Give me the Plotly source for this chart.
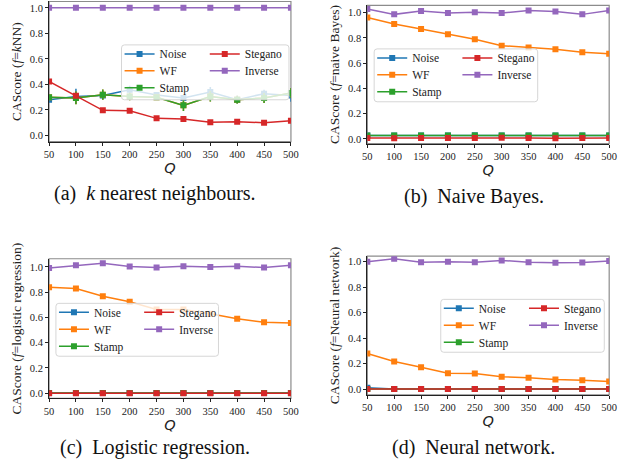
import plotly.graph_objects as go

# ---------------- data ----------------
Q = [50, 100, 150, 200, 250, 300, 350, 400, 450, 500]
series_names = ["Noise", "WF", "Stamp", "Stegano", "Inverse"]
colors = ["#1f77b4", "#ff7f0e", "#2ca02c", "#d62728", "#9467bd"]

# (a) kNN
knn_noise = [0.28, 0.305, 0.313, 0.358, 0.316, 0.293, 0.34, 0.28, 0.327, 0.313]
knn_noise_err = [0.02, 0.06, 0.03, 0.03, 0.02, 0.02, 0.04, 0.03, 0.03, 0.05]
knn_wf = [0.298, 0.293, 0.319, 0.305, 0.298, 0.235, 0.305, 0.28, 0.293, 0.332]
knn_wf_err = [0.02, 0.05, 0.04, 0.03, 0.02, 0.045, 0.04, 0.03, 0.04, 0.04]
knn_stamp = [0.298, 0.293, 0.319, 0.305, 0.298, 0.235, 0.305, 0.28, 0.293, 0.332]
knn_stamp_err = [0.02, 0.05, 0.04, 0.03, 0.02, 0.045, 0.04, 0.03, 0.04, 0.04]
knn_stegano = [0.423, 0.311, 0.196, 0.193, 0.133, 0.128, 0.102, 0.107, 0.099, 0.115]
knn_stegano_err = [0.01, 0.01, 0.01, 0.01, 0.01, 0.01, 0.01, 0.01, 0.01, 0.01]
knn_inverse = [1.0, 1.0, 1.0, 1.0, 1.0, 1.0, 1.0, 1.0, 1.0, 1.0]
knn_inverse_err = [0, 0, 0, 0, 0, 0, 0, 0, 0, 0]

# (b) naive Bayes
nb_noise = [0.027, 0.026, 0.027, 0.027, 0.028, 0.027, 0.026, 0.027, 0.027, 0.027]
nb_wf = [0.963, 0.91, 0.871, 0.829, 0.789, 0.739, 0.724, 0.711, 0.687, 0.674]
nb_stamp = [0.027, 0.026, 0.027, 0.027, 0.027, 0.027, 0.026, 0.027, 0.027, 0.027]
nb_stegano = [0.008, 0.006, 0.008, 0.007, 0.008, 0.01, 0.008, 0.006, 0.008, 0.008]
nb_inverse = [1.03, 0.987, 1.013, 0.997, 1.003, 0.997, 1.018, 1.01, 0.987, 1.018]

# (c) logistic regression
lr_noise = [0.002, 0.002, 0.002, 0.002, 0.002, 0.002, 0.002, 0.002, 0.002, 0.002]
lr_wf = [0.839, 0.829, 0.768, 0.724, 0.663, 0.663, 0.629, 0.589, 0.561, 0.555]
lr_stamp = [0.001, 0.001, 0.001, 0.001, 0.001, 0.001, 0.001, 0.001, 0.001, 0.001]
lr_stegano = [0.0, 0.0, 0.0, 0.0, 0.0, 0.0, 0.0, 0.0, 0.0, 0.0]
lr_inverse = [0.992, 1.013, 1.029, 1.003, 0.995, 1.005, 1.0, 1.005, 0.995, 1.013]

# (d) neural network
nn_noise = [0.01, 0.0, 0.0, 0.0, 0.0, 0.0, 0.0, 0.0, 0.0, 0.0]
nn_wf = [0.279, 0.217, 0.172, 0.125, 0.123, 0.097, 0.089, 0.076, 0.07, 0.06]
nn_stamp = [0.0, 0.0, 0.0, 0.0, 0.0, 0.0, 0.0, 0.0, 0.0, 0.0]
nn_stegano = [0.0, 0.0, 0.0, 0.0, 0.0, 0.0, 0.0, 0.0, 0.0, 0.0]
nn_inverse = [1.0, 1.023, 0.997, 1.0, 0.997, 1.01, 0.997, 0.992, 0.995, 1.005]

y_ticks = [0.0, 0.2, 0.4, 0.6, 0.8, 1.0]

panels = [
    dict(series=[knn_noise, knn_wf, knn_stamp, knn_stegano, knn_inverse],
         errs=[knn_noise_err, knn_wf_err, knn_stamp_err, knn_stegano_err, knn_inverse_err],
         ytitle="CAScore (<i>f</i>=<i>k</i>NN)",
         caption="(a)  <i>k</i> nearest neighbours."),
    dict(series=[nb_noise, nb_wf, nb_stamp, nb_stegano, nb_inverse], errs=None,
         ytitle="CAScore (<i>f</i>=naive Bayes)",
         caption="(b)  Naive Bayes."),
    dict(series=[lr_noise, lr_wf, lr_stamp, lr_stegano, lr_inverse], errs=None,
         ytitle="CAScore (<i>f</i>=logistic regression)",
         caption="(c)  Logistic regression."),
    dict(series=[nn_noise, nn_wf, nn_stamp, nn_stegano, nn_inverse], errs=None,
         ytitle="CAScore (<i>f</i>=Neural network)",
         caption="(d)  Neural network."),
]

# ---------------- layout geometry (pixels) ----------------
W, H = 626, 465
def px(x):
    return x / W
def py(y):
    return 1 - y / H

geom = [
    dict(l=45, r=292, t=1.5, b=142, yr=[-0.05, 1.05], leg=(119, 290, 45, 100), rows=(54, 71, 88), cap=(153, 194)),
    dict(l=370, r=617, t=5.3, b=144, yr=[-0.038, 1.059], leg=(377, 544, 49, 102), rows=(58, 75, 92), cap=(479, 197)),
    dict(l=45, r=292, t=259.3, b=399.3, yr=[-0.042, 1.065], leg=(52, 218, 304, 357), rows=(313, 330, 347), cap=(153, 448)),
    dict(l=370, r=617, t=256.7, b=395.7, yr=[-0.045, 1.044], leg=(445, 612, 300, 353), rows=(309, 326, 343), cap=(478, 448)),
]

SERIF = "Liberation Serif"
fig = go.Figure()
layout = dict(width=W, height=H, margin=dict(l=0, r=0, t=0, b=0),
              plot_bgcolor="white", paper_bgcolor="white", showlegend=True,
              font=dict(family=SERIF, color="#222"))
shapes = []
annotations = []

for i, (p, g) in enumerate(zip(panels, geom)):
    n = i + 1
    xa = "x" if n == 1 else f"x{n}"
    ya = "y" if n == 1 else f"y{n}"
    L, R, T, B = g["leg"]
    for k, (name, col) in enumerate(zip(series_names, colors)):
        err = None
        if p["errs"] is not None:
            err = dict(type="data", array=p["errs"][k], color=col, thickness=1.5, width=0, visible=True)
        lidx = 5 * i + k + 1
        lk = "legend" if lidx == 1 else f"legend{lidx}"
        fig.add_trace(go.Scatter(
            x=Q, y=p["series"][k], name=name, mode="lines+markers",
            line=dict(color=col, width=1.5),
            marker=dict(symbol="square", size=6, color=col),
            error_y=err, xaxis=xa, yaxis=ya, legend=lk,
        ))
        col_idx = 0 if k < 3 else 1
        row_idx = k if k < 3 else k - 3
        layout[lk] = dict(
            x=px(L - 2 + 87 * col_idx), y=py(g["rows"][row_idx]), xanchor="left", yanchor="middle",
            bgcolor="rgba(0,0,0,0)", borderwidth=0, orientation="v",
            font=dict(family=SERIF, size=11.5, color="#222"),
            itemclick=False, itemdoubleclick=False,
        )
    xkey = "xaxis" if n == 1 else f"xaxis{n}"
    ykey = "yaxis" if n == 1 else f"yaxis{n}"
    layout[xkey] = dict(
        domain=[px(g["l"]), px(g["r"])], anchor=ya, range=[50, 500],
        tickvals=Q, ticks="outside", ticklen=3, tickwidth=0.8, tickcolor="#222",
        showline=True, linecolor="#222", linewidth=1, showgrid=False, zeroline=False,
        tickfont=dict(family=SERIF, size=10.5, color="#222"),
        title=dict(text="<i>Q</i>", font=dict(family="DejaVu Sans", size=14.5, color="#222"), standoff=0),
    )
    layout[ykey] = dict(
        domain=[py(g["b"]), py(g["t"])], anchor=xa, range=g["yr"],
        tickvals=y_ticks, tickformat=".1f", ticks="outside", ticklen=3, tickwidth=0.8, tickcolor="#222",
        showline=True, linecolor="#222", linewidth=1, showgrid=False, zeroline=False,
        tickfont=dict(family=SERIF, size=10.5, color="#222"),
        title=dict(text=p["ytitle"], font=dict(family=SERIF, size=13.5, color="#222"), standoff=5),
    )
    shapes.append(dict(type="rect", xref=f"{xa} domain", yref=f"{ya} domain",
                       x0=0, x1=1, y0=0, y1=1, line=dict(color="#8c8c8c", width=1.2), layer="below"))
    rr = 3
    path = (f"M{px(L + rr)},{py(T)} L{px(R - rr)},{py(T)} Q{px(R)},{py(T)} {px(R)},{py(T + rr)} "
            f"L{px(R)},{py(B - rr)} Q{px(R)},{py(B)} {px(R - rr)},{py(B)} "
            f"L{px(L + rr)},{py(B)} Q{px(L)},{py(B)} {px(L)},{py(B - rr)} "
            f"L{px(L)},{py(T + rr)} Q{px(L)},{py(T)} {px(L + rr)},{py(T)} Z")
    shapes.append(dict(type="path", xref="paper", yref="paper", path=path,
                       fillcolor="rgba(255,255,255,0.8)", line=dict(color="#d6d6d6", width=1), layer="above"))
    cx, cy = g["cap"]
    annotations.append(dict(text=p["caption"], x=px(cx), y=py(cy), xref="paper", yref="paper",
                            showarrow=False, xanchor="center", yanchor="middle",
                            font=dict(family=SERIF, size=20, color="#111")))

layout["shapes"] = shapes
layout["annotations"] = annotations
fig.update_layout(**layout)
fig.write_html("out.html", config={"displayModeBar": False},
               post_script="document.body.style.margin='0px';")
